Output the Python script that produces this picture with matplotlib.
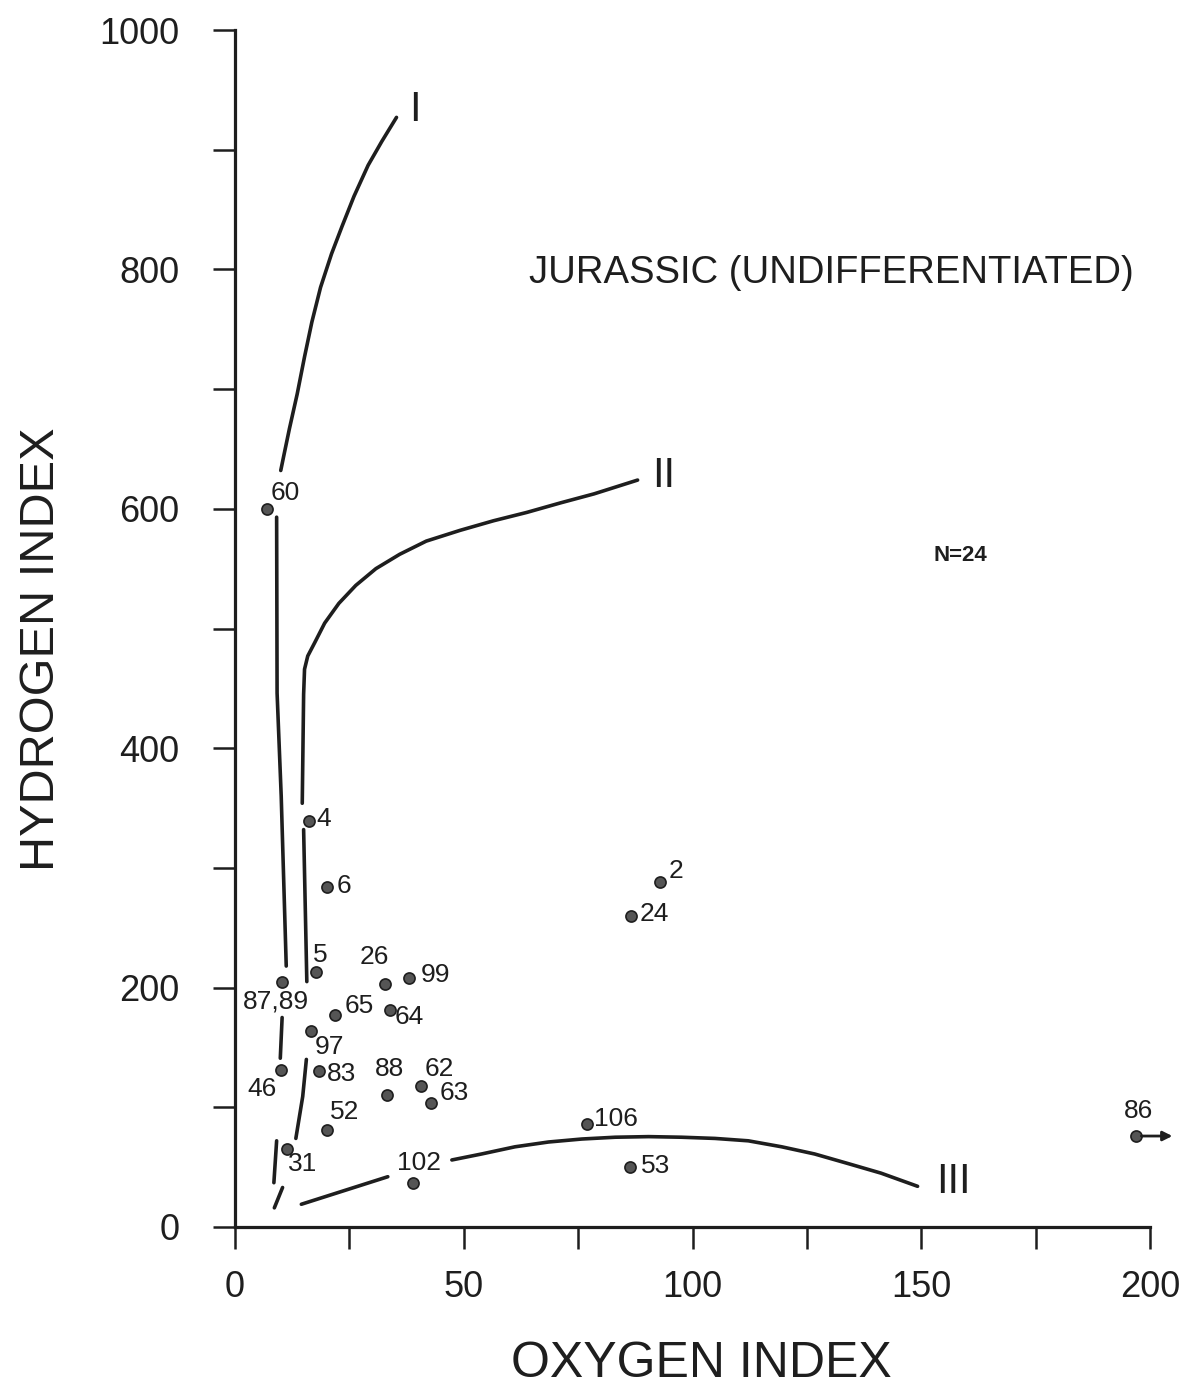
import matplotlib
matplotlib.use('Agg')
import matplotlib.pyplot as plt

# 字体
plt.rcParams['font.family'] = ['Liberation Sans', 'DejaVu Sans']

# 数据：样品编号、氧指数、氢指数
sample_ids = ['60', '4', '6', '5', '87,89', '26', '99', '65', '64', '97', '46', '83',
              '88', '62', '63', '52', '31', '102', '106', '53', '2', '24', '86']
oxygen_index = [7, 16.1, 20, 17.7, 10.2, 32.7, 38, 21.9, 33.9, 16.6, 10.1, 18.4,
                33.3, 40.6, 42.9, 20.1, 11.3, 38.9, 77, 86.4, 92.8, 86.5, 197]
hydrogen_index = [600, 339, 284, 213, 205, 203, 208, 177, 181, 164, 131, 130,
                  110, 118, 104, 81, 65, 37, 86, 50, 288, 260, 76]

# 干酪根类型包络线 (I, II, III)，按读图分段
type1_x = [10, 10.7, 11.9, 13.6, 15.2, 16.8, 18.7, 21.1, 23.4, 26, 29.1, 32.1, 35.3]
type1_y = [632, 645, 667, 696, 727, 756, 785, 813, 836, 861, 887, 907, 927]
type1_low = [([9.1, 9.2, 10.1, 11.2], [593, 446, 360, 218]),
             ([10.3, 9.9], [175, 141]),
             ([9.1, 8.5], [72, 37]),
             ([10.4, 8.6], [33, 16])]
type2_x = [14.7, 15, 15.2, 15.9, 17.4, 19.6, 22.7, 26.4, 30.8, 36, 41.8, 49.2,
           56.5, 63.8, 71.2, 78.5, 88]
type2_y = [354, 445, 466, 477, 488, 504.5, 521, 536, 550, 562, 573, 582,
           590, 597, 605, 612.5, 624]
type2_low = [([15, 15.7], [332, 205]),
             ([15.6, 14.8, 13.3], [140, 109, 74])]
type3_segs = [([14.5, 33.4], [19, 42]),
              ([47.4, 53.9, 61.2, 68.5, 75.8, 83.1, 90.4, 97.6, 104.9, 112.2,
                119.5, 126.7, 134, 141.2, 149.2],
               [56, 61, 67, 71, 73.5, 75, 75.5, 75, 74, 72,
                67, 61, 53, 45, 34])]
type_names = ['I', 'II', 'III']
type_name_pos = [(39.4, 933), (93.6, 627), (157, 38)]

# 标签偏移 (像素: 右, 上, 对齐)
label_offsets = {
    '60': (4, 16, 'left'), '4': (8, 2, 'left'), '6': (10, 1, 'left'),
    '5': (-3, 17, 'left'), '87,89': (-6, -20, 'center'), '26': (-10, 27, 'center'),
    '99': (12, 3, 'left'), '65': (9, 9, 'left'), '64': (5, -7, 'left'),
    '97': (4, -16, 'left'), '46': (-19, -19, 'center'), '83': (8, -3, 'left'),
    '88': (2, 26, 'center'), '62': (4, 17, 'left'), '63': (8, 10, 'left'),
    '52': (3, 18, 'left'), '31': (1, -15, 'left'), '102': (6, 20, 'center'),
    '106': (7, 5, 'left'), '53': (11, 1, 'left'), '2': (9, 11, 'left'),
    '24': (9, 2, 'left'), '86': (2, 25, 'center'),
}

ink = '#1e1e1e'
fig = plt.figure(figsize=(12, 13.89), dpi=100)
ax = fig.add_axes([235 / 1200, 162 / 1389, 915 / 1200, 1197 / 1389])

# 包络线
lw = 2.6
style = dict(color=ink, lw=lw, solid_capstyle='round', solid_joinstyle='round')
ax.plot(type1_x, type1_y, **style)
for xs, ys in type1_low:
    ax.plot(xs, ys, **style)
ax.plot(type2_x, type2_y, **style)
for xs, ys in type2_low:
    ax.plot(xs, ys, **style)
for xs, ys in type3_segs:
    ax.plot(xs, ys, **style)
for name, (tx, ty) in zip(type_names, type_name_pos):
    ax.text(tx, ty, name, fontsize=30, ha='center', va='center', color=ink)

# 样品点
ax.scatter(oxygen_index, hydrogen_index, s=64, color='#555555', edgecolors=ink,
           linewidths=1.2, zorder=3, clip_on=False)
for sid, ox, hy in zip(sample_ids, oxygen_index, hydrogen_index):
    dx, dy, ha = label_offsets[sid]
    ax.annotate(sid, (ox, hy), xytext=(dx, dy), textcoords='offset pixels',
                ha=ha, va='center', fontsize=19, color=ink, annotation_clip=False)

# 86 号样品超出范围的箭头
ax.annotate('', xy=(205.5, 76), xytext=(197.5, 76),
            arrowprops=dict(arrowstyle='-|>', lw=2, color=ink, mutation_scale=14),
            annotation_clip=False)

ax.text(64.3, 797, 'JURASSIC (UNDIFFERENTIATED)', fontsize=27.5, ha='left', va='center', color=ink)
ax.text(158.6, 561, 'N=24', fontsize=16, fontweight='bold', ha='center', va='center', color=ink)

# 坐标轴
ax.set_xlim(0, 200)
ax.set_ylim(0, 1000)
for s in ['top', 'right']:
    ax.spines[s].set_visible(False)
for s in ['left', 'bottom']:
    ax.spines[s].set_linewidth(2.3)
    ax.spines[s].set_color(ink)
ax.set_xticks([0, 50, 100, 150, 200])
ax.set_xticks([25, 75, 125, 175], minor=True)
ax.set_yticks([0, 200, 400, 600, 800, 1000])
ax.set_yticks([100, 300, 500, 700, 900], minor=True)
ax.tick_params(which='both', direction='out', length=16, width=1.8, color=ink)
ax.tick_params(axis='x', which='major', pad=15, labelsize=26, labelcolor=ink)
ax.tick_params(axis='y', which='major', pad=24, labelsize=26, labelcolor=ink)

ax.set_xlabel('OXYGEN INDEX', fontsize=36, color=ink)
ax.set_ylabel('HYDROGEN INDEX', fontsize=35, color=ink)
ax.xaxis.set_label_coords(0.51, -0.1145)
ax.xaxis.label.set_va('center')
ax.yaxis.set_label_coords(-0.211, 0.4825)
ax.yaxis.label.set_va('center')

plt.savefig('out.png', dpi=100)
